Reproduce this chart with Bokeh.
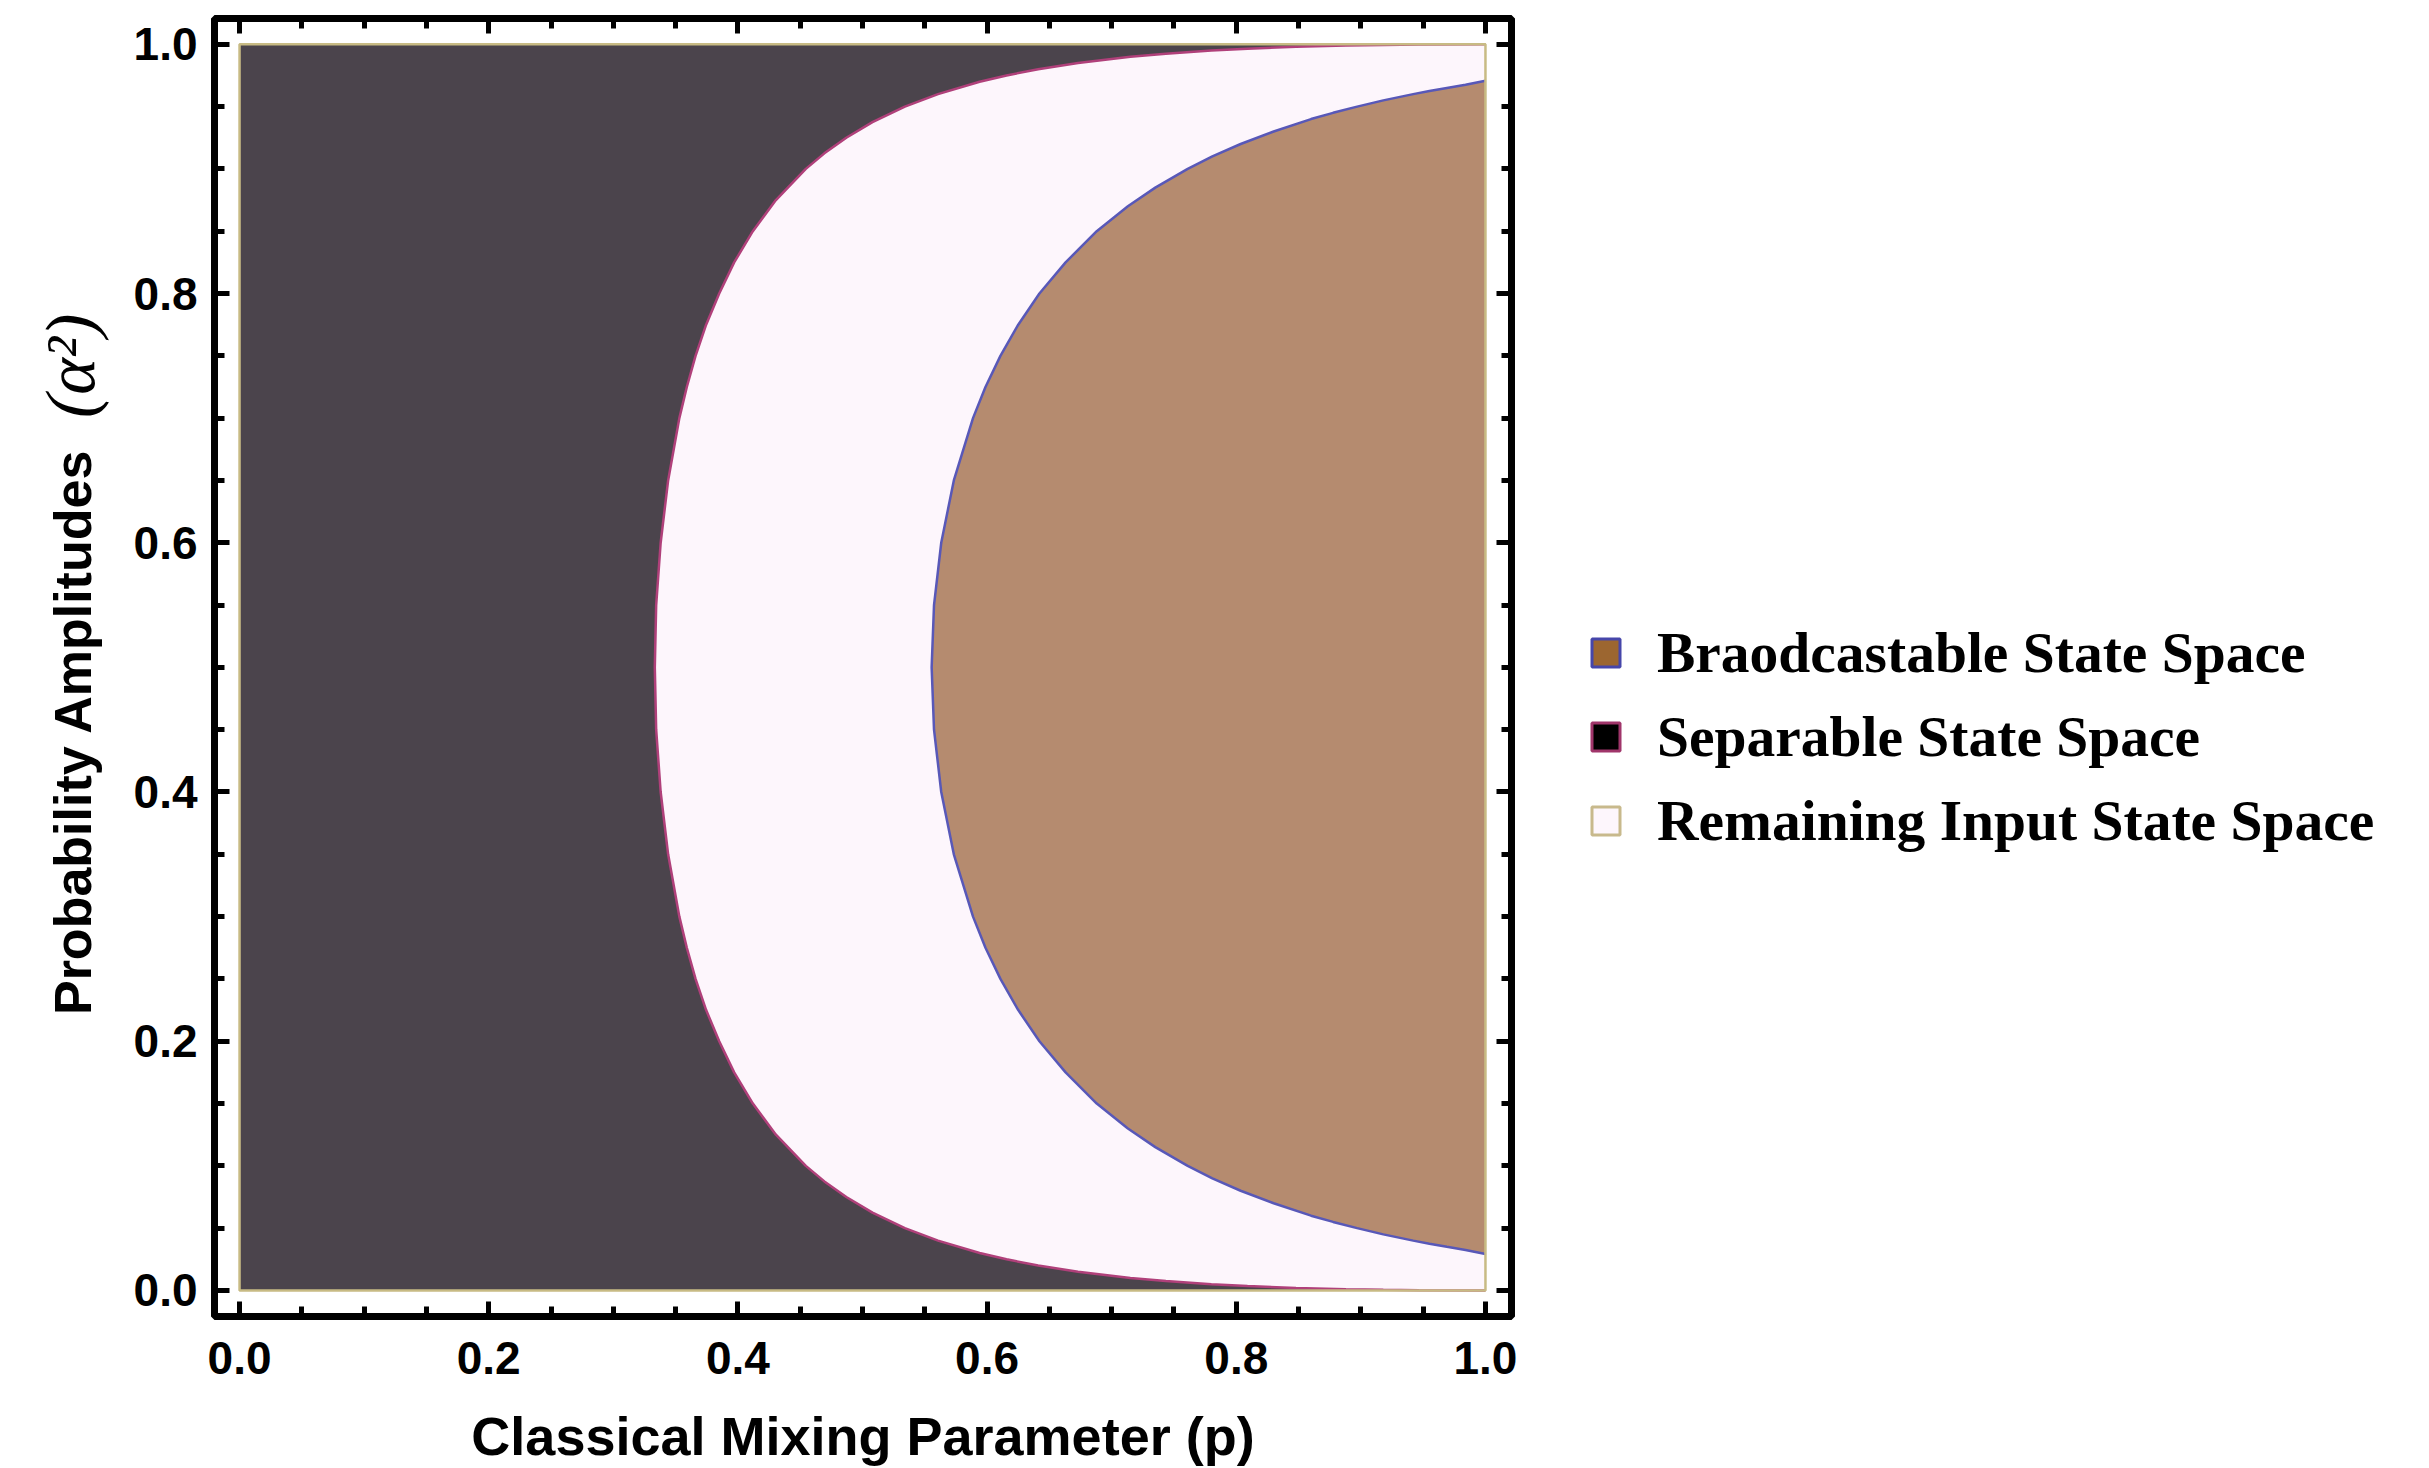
from math import pi

from bokeh.plotting import figure
from bokeh.layouts import row
from bokeh.models import (Range1d, LinearAxis, FixedTicker, PrintfTickFormatter,
                          CustomJSTickFormatter, Label, Legend, LegendItem)
from bokeh.embed import file_html
from bokeh.resources import INLINE

# Separable-state boundary: mixing parameter p as a function of alpha^2
A_SEP = [0.0, 0.0002, 0.0005, 0.001, 0.002, 0.0035, 0.005, 0.0075, 0.01, 0.015, 0.02,
         0.025, 0.03, 0.04, 0.05, 0.0625, 0.075, 0.0875, 0.1, 0.125, 0.15, 0.175, 0.2,
         0.225, 0.25, 0.275, 0.3, 0.35, 0.4, 0.45, 0.5,
         0.55, 0.6, 0.65, 0.7, 0.725, 0.75, 0.775, 0.8, 0.825, 0.85, 0.875, 0.9,
         0.9125, 0.925, 0.9375, 0.95, 0.96, 0.97, 0.975, 0.98, 0.985, 0.99, 0.9925,
         0.995, 0.9965, 0.998, 0.999, 0.9995, 0.9998, 1.0]
P_SEP = [1.0, 0.9465, 0.918, 0.888, 0.848, 0.809, 0.780, 0.7435, 0.715, 0.673, 0.641,
         0.6156, 0.594, 0.5606, 0.534, 0.508, 0.487, 0.4694, 0.4545, 0.4305, 0.412,
         0.397, 0.385, 0.3745, 0.366, 0.359, 0.353, 0.344, 0.338, 0.3344, 0.3333,
         0.3344, 0.338, 0.344, 0.353, 0.359, 0.366, 0.3745, 0.385, 0.397, 0.412, 0.4305,
         0.4545, 0.4694, 0.487, 0.508, 0.534, 0.5606, 0.594, 0.6156, 0.641, 0.673,
         0.715, 0.7435, 0.780, 0.809, 0.848, 0.888, 0.918, 0.9465, 1.0]

# Broadcastable-state boundary
A_BROAD = [0.0292, 0.0325, 0.035, 0.0375, 0.04, 0.045, 0.05, 0.055, 0.06, 0.07, 0.08,
           0.09, 0.1, 0.115, 0.13, 0.15, 0.175, 0.2, 0.225, 0.25, 0.275, 0.3, 0.35, 0.4,
           0.45, 0.5,
           0.55, 0.6, 0.65, 0.7, 0.725, 0.75, 0.775, 0.8, 0.825, 0.85, 0.87, 0.885, 0.9,
           0.91, 0.92, 0.93, 0.94, 0.945, 0.95, 0.955, 0.96, 0.9625, 0.965, 0.9675,
           0.9708]
P_BROAD = [1.0, 0.984, 0.969, 0.955, 0.942, 0.918, 0.897, 0.8777, 0.860, 0.830, 0.8035,
           0.7808, 0.761, 0.735, 0.713, 0.688, 0.663, 0.642, 0.625, 0.6107, 0.5987,
           0.5887, 0.5733, 0.5632, 0.5574, 0.5555,
           0.5574, 0.5632, 0.5733, 0.5887, 0.5987, 0.6107, 0.625, 0.642, 0.663, 0.688,
           0.713, 0.735, 0.761, 0.7808, 0.8035, 0.830, 0.860, 0.8777, 0.897, 0.918,
           0.942, 0.955, 0.969, 0.984, 1.0]

TICKS = [0.0, 0.2, 0.4, 0.6, 0.8, 1.0]
MINOR_TICKS = [0.05, 0.1, 0.15, 0.25, 0.3, 0.35, 0.45, 0.5, 0.55, 0.65, 0.7, 0.75,
               0.85, 0.9, 0.95]

LEGEND_LABELS = ["Braodcastable State Space", "Separable State Space",
                 "Remaining Input State Space"]

DARK = "#4b444c"
REMAIN = "#fdf6fc"
BROWN = "#b58b6f"
SEP_LINE = "#b0407a"
BROAD_LINE = "#5858b8"
EDGE = "#c8bb84"

FRAME_H = 1298
TOP = 18
BOTTOM = 150

y_range = Range1d(-0.0209, 1.0207)

p = figure(frame_width=1297, frame_height=FRAME_H,
           min_border_left=104, min_border_top=TOP, min_border_right=20,
           min_border_bottom=BOTTOM,
           x_range=Range1d(-0.0201, 1.0209), y_range=y_range,
           output_backend="svg", toolbar_location=None,
           background_fill_color="white", border_fill_color="white")
p.xgrid.visible = False
p.ygrid.visible = False
p.outline_line_color = "black"
p.outline_line_width = 7

# whole input-state square
p.quad(left=[0], right=[1], bottom=[0], top=[1], fill_color=REMAIN, line_color=None)
# separable region (left of the boundary)
p.harea(x1=[0.0] * len(A_SEP), x2=P_SEP, y=A_SEP, fill_color=DARK)
# broadcastable region (right of its boundary)
p.harea(x1=P_BROAD, x2=[1.0] * len(A_BROAD), y=A_BROAD, fill_color=BROWN)
p.line(P_SEP, A_SEP, line_color=SEP_LINE, line_width=2.5)
p.line(P_BROAD, A_BROAD, line_color=BROAD_LINE, line_width=2.5)
p.quad(left=[0], right=[1], bottom=[0], top=[1], fill_color=None,
       line_color=EDGE, line_width=2.5)

ticker = FixedTicker(ticks=TICKS, minor_ticks=MINOR_TICKS)


def style_axis(ax, labelled):
    ax.ticker = ticker
    ax.axis_line_color = None
    ax.major_tick_in = 15
    ax.major_tick_out = 0
    ax.minor_tick_in = 10
    ax.minor_tick_out = 0
    ax.major_tick_line_width = 5
    ax.minor_tick_line_width = 5
    ax.major_tick_line_color = "black"
    ax.minor_tick_line_color = "black"
    if labelled:
        ax.formatter = PrintfTickFormatter(format="%.1f")
        ax.major_label_text_font = "Liberation Sans"
        ax.major_label_text_font_style = "bold"
        ax.major_label_text_font_size = "46px"
        ax.major_label_text_color = "black"
        ax.major_label_standoff = 17
    else:
        ax.formatter = CustomJSTickFormatter(code="return ''")
        ax.major_label_text_font_size = "1px"
        ax.major_label_standoff = 0


x_bottom = p.xaxis[0]
y_left = p.yaxis[0]
style_axis(x_bottom, True)
style_axis(y_left, True)
x_bottom.major_label_standoff = 25
top_ax = LinearAxis()
right_ax = LinearAxis()
style_axis(top_ax, False)
style_axis(right_ax, False)
p.add_layout(top_ax, "above")
p.add_layout(right_ax, "right")

x_bottom.axis_label = "Classical Mixing Parameter (p)"
x_bottom.axis_label_text_font = "Liberation Sans"
x_bottom.axis_label_text_font_style = "bold"
x_bottom.axis_label_text_font_size = "54px"
x_bottom.axis_label_text_color = "black"
x_bottom.axis_label_standoff = 29

# strip on the left holding the vertical axis title (text + math symbol)
TITLE_W = 110
title_fig = figure(frame_width=TITLE_W, frame_height=FRAME_H,
                   min_border_left=0, min_border_right=0, min_border_top=TOP,
                   min_border_bottom=BOTTOM, x_range=Range1d(0, TITLE_W),
                   y_range=y_range, x_axis_type=None, y_axis_type=None,
                   output_backend="svg", toolbar_location=None,
                   outline_line_color=None, background_fill_color="white",
                   border_fill_color="white")
title_fig.add_layout(Label(x=72, y=0.221, text="Probability Amplitudes", angle=pi / 2,
                           text_align="left", text_baseline="middle",
                           text_font="Liberation Sans", text_font_style="bold",
                           text_font_size="52px", text_color="black"))
title_fig.add_layout(Label(x=70, y=0.742, text="(\u03b1\u00b2)", angle=pi / 2,
                           text_align="center", text_baseline="middle",
                           text_font="Liberation Serif", text_font_style="italic",
                           text_font_size="70px", text_color="black"))

# strip on the right holding the legend
LEG_W = 890
leg_fig = figure(frame_width=LEG_W, frame_height=FRAME_H,
                 min_border_left=0, min_border_right=0, min_border_top=TOP,
                 min_border_bottom=BOTTOM, x_range=Range1d(0, LEG_W),
                 y_range=y_range, x_axis_type=None, y_axis_type=None,
                 output_backend="svg", toolbar_location=None,
                 outline_line_color=None, background_fill_color="white",
                 border_fill_color="white")
# swatch renderers: their single quad lies outside the strip's visible range
r_broad = leg_fig.quad(left=[-20], right=[-10], top=[-20], bottom=[-10],
                       fill_color="#9c6630", line_color="#4646aa", line_width=3)
r_sep = leg_fig.quad(left=[-20], right=[-10], top=[-20], bottom=[-10],
                     fill_color="black", line_color="#a0356a", line_width=3)
r_rem = leg_fig.quad(left=[-20], right=[-10], top=[-20], bottom=[-10],
                     fill_color=REMAIN, line_color="#c8b98c", line_width=3)

legend = Legend(items=[LegendItem(label=LEGEND_LABELS[0], renderers=[r_broad]),
                       LegendItem(label=LEGEND_LABELS[1], renderers=[r_sep]),
                       LegendItem(label=LEGEND_LABELS[2], renderers=[r_rem])],
                location=(57, 463),
                glyph_width=35, glyph_height=35, label_height=66, spacing=18,
                label_standoff=34, padding=0, margin=0,
                border_line_alpha=0, background_fill_alpha=0,
                label_text_font="Liberation Serif", label_text_font_style="bold",
                label_text_font_size="57.5px", label_text_color="black",
                label_text_baseline="middle")
leg_fig.add_layout(legend, "center")

layout = row(title_fig, p, leg_fig, spacing=0)

open("out.html", "w").write(file_html(layout, INLINE))
